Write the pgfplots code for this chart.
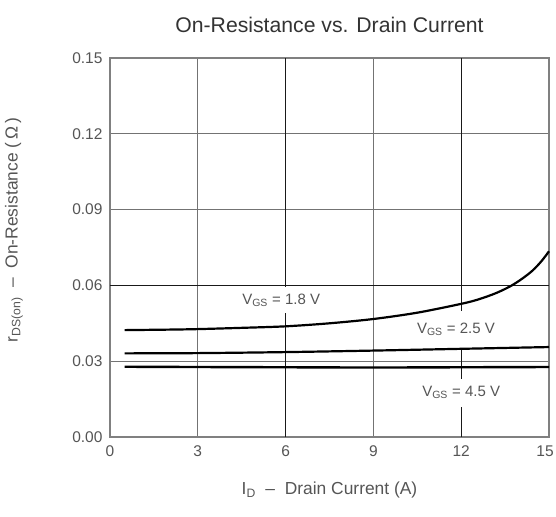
\documentclass[border=0pt]{standalone}
\usepackage{fontspec}
\setmainfont{Liberation Sans}
\usepackage{pgfplots}
\pgfplotsset{compat=1.18}
\definecolor{txt}{HTML}{555555}
\begin{document}
\begin{tikzpicture}
\begin{axis}[
  scale only axis, width=439pt, height=379pt,
  at={(0,0)}, anchor=south west,
  xmin=0, xmax=15, ymin=0, ymax=0.15,
  xtick={0,3,6,9,12,15},
  xticklabels={0,3,6,9,12,\hspace*{-8pt}15},
  ytick={0,0.03,0.06,0.09,0.12,0.15},
  extra x ticks={6,12}, extra x tick labels={},
  extra y ticks={0.06}, extra y tick labels={},
  extra tick style={major grid style={black!90, line width=1.2pt}},
  yticklabel style={/pgf/number format/fixed, /pgf/number format/fixed zerofill, /pgf/number format/precision=2, xshift=-4pt},
  /pgf/number format/assume math mode=true,
  tick style={draw=none},
  grid=major,
  major grid style={black!55, line width=0.9pt},
  axis line style={black!50, line width=1.3pt},
  ticklabel style={font=\fontsize{15.5}{17}\selectfont, text=txt},
  xticklabel style={yshift=-5pt},
  every axis x label/.style={at={(axis description cs:0.5,0)}, anchor=center, yshift=-53pt},
  every axis y label/.style={at={(axis description cs:0,0.546)}, anchor=center, xshift=-96pt, rotate=90},
  every axis title/.style={at={(axis description cs:0.5,1)}, anchor=center, yshift=33pt},
  label style={font=\fontsize{17.4}{19}\selectfont, text=txt},
  title style={font=\fontsize{21.2}{24}\selectfont, text=black!80},
  xlabel={I\textsubscript{D}\ \ –\ \ Drain Current (A)},
  ylabel={r\textsubscript{DS(on)}\ \ –\ \ On-Resistance (\,Ω\,)},
  title={On-Resistance vs. Drain Current},
  clip=false,
]
% label boxes that break the grid
\node[fill=white, minimum width=118pt, minimum height=26pt, inner sep=0pt, text=txt,
  font=\fontsize{15}{17}\selectfont] at (axis cs:5.85,0.0542) {V\textsubscript{GS} = 1.8 V};
\node[fill=white, minimum width=104pt, minimum height=38pt, inner sep=0pt, text=txt,
  font=\fontsize{15}{17}\selectfont] at (axis cs:11.82,0.0425) {V\textsubscript{GS} = 2.5 V};
\node[fill=white, minimum width=104pt, minimum height=28pt, inner sep=0pt, text=txt,
  font=\fontsize{15}{17}\selectfont] at (axis cs:12.0,0.0176) {V\textsubscript{GS} = 4.5 V};
% VGS = 1.8 V
\addplot[black, line width=2.2pt, smooth] coordinates {
  (0.5,0.0423) (2,0.0425) (3,0.0427) (4.5,0.0432) (6,0.0438) (7.5,0.0450)
  (9,0.0467) (10.5,0.0492) (12,0.0527) (12.6,0.0545) (13.2,0.0570) (13.7,0.0598)
  (14.1,0.0628) (14.45,0.0660) (14.75,0.0697) (15,0.0735)
};
% VGS = 2.5 V
\addplot[black, line width=2.2pt, smooth] coordinates {
  (0.5,0.0331) (3,0.0332) (6,0.0336) (9,0.0342) (12,0.0349) (15,0.0356)
};
% VGS = 4.5 V
\addplot[black, line width=2.4pt, smooth] coordinates {
  (0.5,0.0278) (3,0.0277) (6,0.0276) (9,0.0275) (12,0.0276) (15,0.0277)
};
\end{axis}
\pgfresetboundingbox
\path (-110pt,-79pt) rectangle (446pt,437pt);
\end{tikzpicture}
\end{document}
